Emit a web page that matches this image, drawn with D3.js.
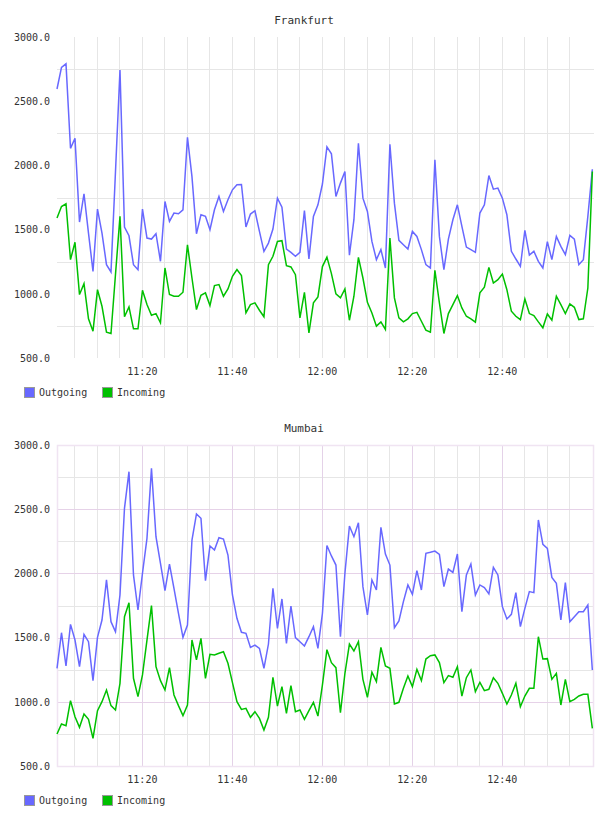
<!DOCTYPE html>
<html lang="en">
  <head>
    <meta charset="UTF-8" />
    <title>Traffic</title>
    <style>
      body { margin: 0; background: #fff; }
      svg text { font-family: "DejaVu Sans Mono", monospace; fill: #333; }
    </style>
  </head>
  <body>
    <div id="chart"></div>
    <script src="https://cdn.jsdelivr.net/npm/d3@7"></script>
    <script>

      // one sample per minute, 11:01 .. 13:00
      var times = d3.range(120).map(function(i) { return new Date(2014, 0, 1, 11, 1 + i, 8); });

      var frankfurtOut = [2595,2763,2791,2133,2211,1559,1779,1473,1175,1660,1473,1227,1170,1950,2742,1520,1452,1227,1188,1660,
                          1434,1426,1468,1253,1719,1564,1629,1623,1654,2219,1913,1468,1616,1603,1499,1654,1758,1641,1732,1810,
                          1849,1851,1520,1621,1647,1486,1331,1395,1504,1745,1675,1349,1323,1292,1323,1649,1271,1603,1693,1855,
                          2144,2090,1758,1862,1952,1300,1577,2172,1745,1641,1408,1266,1344,1201,2165,1706,1416,1382,1349,1486,
                          1447,1344,1227,1201,2043,1447,1188,1426,1577,1693,1525,1364,1344,1323,1629,1693,1921,1815,1823,1745,
                          1616,1331,1271,1214,1494,1302,1331,1253,1201,1406,1266,1447,1369,1305,1455,1426,1227,1266,1603,1970];
      var frankfurtIn  = [1590,1680,1701,1266,1401,994,1079,805,709,1032,903,701,691,1150,1603,821,898,727,727,1027,
                          916,833,846,774,1201,994,981,981,1012,1382,1123,877,989,1007,908,1064,1072,981,1038,1136,
                          1188,1142,851,916,929,872,821,1227,1292,1408,1414,1219,1209,1149,813,1012,696,929,976,1212,
                          1286,1157,999,968,1038,794,981,1284,1123,934,851,748,781,722,1434,968,813,781,805,846,
                          856,786,717,701,1183,929,691,846,916,986,890,825,805,779,1007,1051,1206,1084,1110,1154,
                          1032,864,825,799,960,846,830,781,735,843,794,981,916,846,921,895,799,805,1045,1952];

      var mumbaiOut = [1261,1538,1279,1603,1481,1274,1525,1468,1165,1502,1637,1949,1624,1546,1832,2507,2792,1988,1715,2001,
                       2273,2818,2286,2078,1866,2073,1884,1689,1502,1598,2260,2463,2429,1943,2213,2182,2278,2268,2143,1832,
                       1650,1541,1533,1424,1442,1416,1261,1450,1884,1572,1801,1455,1746,1500,1468,1435,1507,1585,1416,1689,
                       2217,2136,2065,1507,2001,2369,2286,2395,1897,1676,1949,1871,2359,2151,2065,1577,1629,1780,1910,1837,
                       2021,1871,2156,2164,2174,2148,1897,2034,2008,2151,1702,1988,2073,1832,1910,1889,1840,2047,1988,1741,
                       1645,1681,1850,1585,1728,1858,1850,2416,2226,2195,1969,1923,1637,1928,1624,1663,1702,1702,1754,1248];
      var mumbaiIn  = [749,827,814,1009,884,801,905,864,716,931,1001,1092,970,936,1144,1663,1772,1183,1040,1209,
                       1481,1749,1274,1165,1092,1266,1053,970,892,975,1481,1326,1494,1183,1370,1365,1378,1390,1300,1149,
                       1001,941,949,879,923,871,780,879,1191,967,1118,910,1126,923,936,864,931,996,889,1131,
                       1406,1305,1266,915,1222,1450,1396,1468,1175,1035,1230,1157,1424,1279,1261,983,996,1105,1201,1118,
                       1253,1165,1333,1359,1365,1305,1149,1204,1191,1274,1045,1188,1248,1079,1152,1087,1097,1188,1144,1066,
                       983,1053,1144,962,1045,1105,1105,1507,1333,1336,1175,1222,975,1175,1001,1019,1045,1058,1058,793];

      var yTicks = [500, 1000, 1500, 2000, 2500, 3000];
      var yMinor = [750, 1250, 1750, 2250, 2750];
      var xTicks = [[11, 20], [11, 40], [12, 0], [12, 20], [12, 40]];
      var seriesNames = ["Outgoing", "Incoming"];
      var colors = ["#6868ff", "#00c000"];

      var w = 608, h = 816;
      var svg = d3.select("#chart").append("svg")
        .attr("width", w)
        .attr("height", h);

      var xScale = d3.scaleTime()
        .domain([new Date(2014, 0, 1, 11, 1, 8), new Date(2014, 0, 1, 13, 0, 30)])
        .range([57, 594]);

      function drawChart(top, title, outVals, inVals, framed) {
        var g = svg.append("g").attr("transform", "translate(0," + top + ")");
        var ph = 321;
        var yScale = d3.scaleLinear().domain([500, 3000]).range([ph, 0]);

        // minor grid
        var fiveMin = d3.timeMinute.every(5).range(new Date(2014, 0, 1, 11, 5), new Date(2014, 0, 1, 13, 0));
        g.selectAll(".vgrid").data(fiveMin).enter().append("line")
          .attr("x1", function(d) { return Math.round(xScale(d)) + 0.5; })
          .attr("x2", function(d) { return Math.round(xScale(d)) + 0.5; })
          .attr("y1", 0).attr("y2", ph)
          .attr("stroke", "#e6e6e6");
        g.selectAll(".hgrid").data(yMinor).enter().append("line")
          .attr("x1", xScale.range()[0]).attr("x2", xScale.range()[1])
          .attr("y1", function(d) { return Math.round(yScale(d)) + 0.5; })
          .attr("y2", function(d) { return Math.round(yScale(d)) + 0.5; })
          .attr("stroke", "#e6e6e6");

        if (framed) {
          g.selectAll(".vmajor").data(xTicks).enter().append("line")
            .attr("x1", function(d) { return Math.round(xScale(new Date(2014, 0, 1, d[0], d[1]))) + 0.5; })
            .attr("x2", function(d) { return Math.round(xScale(new Date(2014, 0, 1, d[0], d[1]))) + 0.5; })
            .attr("y1", 0).attr("y2", ph)
            .attr("stroke", "#e4d2e8");
          g.selectAll(".hmajor").data(yTicks).enter().append("line")
            .attr("x1", xScale.range()[0]).attr("x2", xScale.range()[1])
            .attr("y1", function(d) { return Math.round(yScale(d)) + 0.5; })
            .attr("y2", function(d) { return Math.round(yScale(d)) + 0.5; })
            .attr("stroke", "#e6d2e8");
          g.append("rect")
            .attr("x", xScale.range()[0] + 0.5).attr("y", 0.5)
            .attr("width", xScale.range()[1] - xScale.range()[0] - 1).attr("height", ph)
            .attr("fill", "none")
            .attr("stroke", "#f0e4f2")
            .attr("stroke-width", 1.5);
        }

        var line = d3.line()
          .x(function(d, i) { return xScale(times[i]); })
          .y(function(d) { return yScale(d); });

        [outVals, inVals].forEach(function(vals, k) {
          g.append("path")
            .datum(vals)
            .attr("d", line)
            .attr("fill", "none")
            .attr("stroke", colors[k])
            .attr("stroke-width", 1.5);
        });

        // axes
        var yAxis = d3.axisLeft(yScale)
          .tickValues(yTicks)
          .tickSize(0)
          .tickPadding(7)
          .tickFormat(d3.format(".1f"));
        g.append("g")
          .attr("transform", "translate(57,0)")
          .call(yAxis)
          .call(function(a) { a.select(".domain").remove(); })
          .selectAll("text")
          .attr("font-size", 10)
          .attr("fill", "#333");

        var xAxis = d3.axisBottom(xScale)
          .tickValues(xTicks.map(function(t) { return new Date(2014, 0, 1, t[0], t[1]); }))
          .tickSize(0)
          .tickPadding(10)
          .tickFormat(d3.timeFormat("%H:%M"));
        g.append("g")
          .attr("transform", "translate(0," + ph + ")")
          .call(xAxis)
          .call(function(a) { a.select(".domain").remove(); })
          .selectAll("text")
          .attr("font-size", 10)
          .attr("fill", "#333");

        g.selectAll(".tick text").style("font-family", "DejaVu Sans Mono, monospace");

        // title
        g.append("text")
          .attr("x", w / 2)
          .attr("y", -13)
          .attr("text-anchor", "middle")
          .attr("font-size", 11)
          .attr("fill", "#222")
          .text(title);

        // legend
        var leg = g.append("g").attr("transform", "translate(24," + (ph + 29) + ")");
        var legX = [0, 78];
        seriesNames.forEach(function(name, k) {
          leg.append("rect")
            .attr("x", legX[k] + 0.5).attr("y", 0.5)
            .attr("width", 10).attr("height", 10)
            .attr("fill", colors[k])
            .attr("stroke", "#999");
          leg.append("text")
            .attr("x", legX[k] + 15)
            .attr("y", 9)
            .attr("font-size", 10)
            .attr("fill", "#333")
            .text(name);
        });
      }

      drawChart(37, "Frankfurt", frankfurtOut, frankfurtIn, false);
      drawChart(445, "Mumbai", mumbaiOut, mumbaiIn, true);

    </script>
  </body>
</html>
